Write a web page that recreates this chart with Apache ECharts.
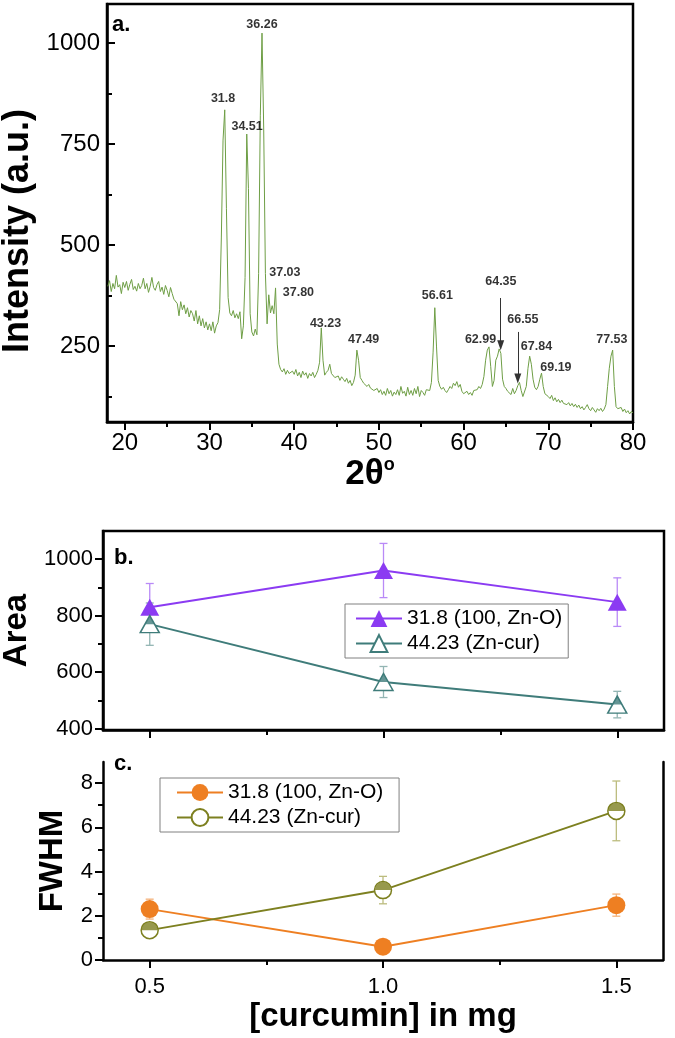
<!DOCTYPE html>
<html>
<head>
<meta charset="utf-8">
<script src="https://cdn.jsdelivr.net/npm/echarts@6.0.0/dist/echarts.min.js"></script>
<style>
  html, body { margin: 0; padding: 0; background: #fff; }
  #chart { width: 675px; height: 1038px; }
</style>
</head>
<body>
<div id="chart"></div>
<script>
// ---- panel a: XRD pattern, 2θ from 18 to 80 in 0.2 steps ----
const xrdStart = 18;
const xrdStep = 0.2;
const xrdIntensity = [
  398, 412, 385, 405, 392, 425, 396, 402, 380, 408,   // 18
  395, 410, 388, 403, 415, 390, 398, 386, 405, 392,   // 20
  400, 418, 392, 405, 383, 398, 420, 395, 388, 402,   // 22
  410, 385, 396, 378, 400, 388, 372, 395, 380, 366,   // 24
  368, 355, 325, 360, 340, 352, 330, 345, 322, 338,   // 26
  330, 312, 338, 305, 325, 300, 318, 295, 310, 290,   // 28
  305, 288, 310, 282, 300, 308, 340, 520, 760, 835,   // 30
  590, 370, 332, 325, 338, 320, 330, 318, 335, 268,   // 32
  300, 420, 775, 640, 330, 285, 275, 292, 278, 430,   // 34
  820, 1025, 790, 430, 305, 377, 332, 350, 330, 394,  // 36
  255, 205, 192, 186, 194, 180, 190, 182, 178, 188,   // 38
  180, 192, 176, 185, 172, 188, 178, 184, 170, 182,   // 40
  176, 185, 172, 180, 190, 210, 295, 215, 178, 185,   // 42
  190, 205, 182, 178, 172, 168, 176, 165, 174, 168,   // 44
  162, 170, 158, 165, 152, 160, 178, 240, 215, 172,   // 46
  165, 158, 162, 150, 155, 146, 150, 140, 138, 145,   // 48
  135, 142, 130, 138, 128, 145, 132, 140, 126, 136,   // 50
  130, 142, 128, 150, 133, 138, 126, 148, 130, 140,   // 52
  128, 145, 132, 150, 125, 140, 135, 128, 142, 138,   // 54
  140, 160, 235, 345, 250, 165, 150, 143, 148, 140,   // 56
  135, 142, 150, 145, 158, 152, 162, 148, 155, 138,   // 58
  132, 128, 138, 130, 135, 128, 140, 136, 142, 150,   // 60
  145, 155, 175, 215, 240, 248, 200, 150, 165, 215,   // 62
  225, 243, 232, 168, 150, 145, 138, 142, 130, 145,   // 64
  132, 140, 152, 160, 140, 125, 122, 150, 195, 225,   // 66
  205, 168, 148, 142, 150, 168, 183, 150, 132, 128,   // 68
  125, 120, 128, 115, 122, 112, 118, 110, 116, 108,   // 70
  112, 105, 110, 102, 108, 100, 106, 98, 104, 95,     // 72
  100, 92, 98, 105, 95, 90, 98, 92, 86, 95,           // 74
  90, 96, 88, 94, 105, 150, 195, 225, 240, 150,       // 76
  100, 95, 92, 98, 88, 94, 85, 90, 82, 88,            // 78
  85                                                  // 80
];

// peak annotations (text placed at these 2θ / intensity spots)
const peakNames = ['36.26', '31.8', '34.51', '37.03', '37.80', '43.23', '47.49',
                   '56.61', '64.35', '62.99', '66.55', '67.84', '69.19', '77.53'];
const peakLabelX = [36.2, 31.6, 34.44, 38.9, 40.5, 43.7, 48.2, 56.9, 64.4, 62.0, 67.0, 68.6, 70.9, 77.5];
const peakLabelY = [1045, 863, 794, 431, 382, 307, 267, 374, 409, 267, 315, 248, 198, 267];
const arrowX = [64.38, 66.4];
const arrowFrom = [369, 285];
const arrowTo = [252, 170];

// ---- panels b and c ----
const curcumin = [0.5, 1.0, 1.5];
const seriesNames = ['31.8 (100, Zn-O)', '44.23 (Zn-cur)'];
const areaZnO = [830, 960, 848];
const areaZnOErr = [84, 96, 86];
const areaZnCur = [770, 565, 485];
const areaZnCurErr = [75, 55, 47];
const fwhmZnO = [2.3, 0.6, 2.48];
const fwhmZnOErr = [0.45, 0.1, 0.5];
const fwhmZnCur = [1.35, 3.16, 6.74];
const fwhmZnCurErr = [0.1, 0.62, 1.35];

const FONT = '"Liberation Sans", Arial, sans-serif';
const purple = '#8b3bf2', teal = '#3f7c7a', orange = '#ee7f22', olive = '#7d8020';

const chart = echarts.init(document.getElementById('chart'));

function axis(gridIndex, position, min, max, ticks, inside, extra) {
  return Object.assign({
    type: 'value', gridIndex: gridIndex, position: position, min: min, max: max,
    axisLine: { show: true, onZero: false, lineStyle: { color: '#000', width: 2.5 } },
    axisTick: { show: true, customValues: ticks, inside: inside, length: 8, lineStyle: { color: '#000', width: 2 } },
    axisLabel: { show: true, customValues: ticks, color: '#000', fontFamily: FONT, fontSize: 22, margin: 10,
      formatter: v => String(v) },
    splitLine: { show: false }
  }, extra || {});
}

function minorAxis(gridIndex, position, min, max, ticks, inside) {
  return {
    type: 'value', gridIndex: gridIndex, position: position, min: min, max: max,
    axisLine: { show: false },
    axisTick: { show: true, customValues: ticks, inside: inside, length: 5, lineStyle: { color: '#000', width: 2 } },
    axisLabel: { show: false },
    splitLine: { show: false }
  };
}

function errorBars(xi, yi, values, errs, color) {
  return {
    type: 'custom', xAxisIndex: xi, yAxisIndex: yi, silent: true, z: 1,
    data: curcumin.map((c, i) => [c, values[i], errs[i]]),
    renderItem: function (params, api) {
      const x = api.value(0), y = api.value(1), e = api.value(2);
      const hi = api.coord([x, y + e]);
      const lo = api.coord([x, y - e]);
      const style = { stroke: color, lineWidth: 1.3 };
      return {
        type: 'group',
        children: [
          { type: 'line', shape: { x1: hi[0], y1: hi[1], x2: lo[0], y2: lo[1] }, style: style },
          { type: 'line', shape: { x1: hi[0] - 4, y1: hi[1], x2: hi[0] + 4, y2: hi[1] }, style: style },
          { type: 'line', shape: { x1: lo[0] - 4, y1: lo[1], x2: lo[0] + 4, y2: lo[1] }, style: style }
        ]
      };
    }
  };
}

function pairs(values) {
  return curcumin.map((c, i) => [c, values[i]]);
}

const legendBase = {
  orient: 'vertical', backgroundColor: '#fff',
  borderColor: '#808080', borderWidth: 1, borderRadius: 0,
  itemWidth: 46, itemHeight: 21, itemGap: 4,
  textStyle: { color: '#000', fontFamily: FONT, fontSize: 21 }
};

const option = {
  animation: false,
  grid: [
    { left: 107, top: 4, width: 526, height: 418, show: true, borderColor: '#000', borderWidth: 2.5, outerBoundsMode: 'none' },
    { left: 103, top: 531, width: 561, height: 199, show: true, borderColor: '#000', borderWidth: 2.5, outerBoundsMode: 'none' },
    { left: 103, top: 762, width: 560, height: 198, show: false, outerBoundsMode: 'none' }
  ],
  xAxis: [
    axis(0, 'bottom', 17.9, 80, [20, 30, 40, 50, 60, 70, 80], false, {
      axisLabel: { show: true, customValues: [20, 30, 40, 50, 60, 70, 80], color: '#000', fontFamily: FONT, fontSize: 24, margin: 9,
        formatter: v => String(v) },
      name: '{a|2θ}{b|o}', nameLocation: 'middle', nameGap: 21,
      nameTextStyle: {
        rich: {
          a: { fontSize: 35, fontWeight: 'bold', fontFamily: FONT, color: '#000', lineHeight: 36 },
          b: { fontSize: 18, fontWeight: 'bold', fontFamily: FONT, color: '#000', lineHeight: 18, verticalAlign: 'top' }
        }
      }
    }),
    minorAxis(0, 'bottom', 17.9, 80, [25, 35, 45, 55, 65, 75], false),
    axis(1, 'bottom', 0.4, 1.6, [0.5, 1.0, 1.5], false, { axisLabel: { show: false } }),
    minorAxis(1, 'bottom', 0.4, 1.6, [0.75, 1.25], false),
    axis(2, 'bottom', 0.4, 1.6, [0.5, 1.0, 1.5], false, {
      axisLabel: { show: true, customValues: [0.5, 1.0, 1.5], color: '#000', fontFamily: FONT, fontSize: 22, margin: 16,
        formatter: v => v.toFixed(1) },
      name: '[curcumin] in mg', nameLocation: 'middle', nameGap: 40,
      nameTextStyle: { fontSize: 33, fontWeight: 'bold', fontFamily: FONT, color: '#000' }
    }),
    minorAxis(2, 'bottom', 0.4, 1.6, [0.75, 1.25], false)
  ],
  yAxis: [
    axis(0, 'left', 62, 1097, [250, 500, 750, 1000], true, {
      axisLabel: { show: true, customValues: [250, 500, 750, 1000], color: '#000', fontFamily: FONT, fontSize: 24, margin: 7,
        formatter: v => String(v) },
      name: 'Intensity (a.u.)', nameLocation: 'middle', nameGap: 59,
      nameTextStyle: { fontSize: 36, fontWeight: 'bold', fontFamily: FONT, color: '#000', padding: [0, 36, 0, 0] }
    }),
    minorAxis(0, 'left', 62, 1097, [125, 375, 625, 875], true),
    axis(1, 'left', 395, 1100, [400, 600, 800, 1000], false, {
      name: 'Area', nameLocation: 'middle', nameGap: 63,
      nameTextStyle: { fontSize: 33, fontWeight: 'bold', fontFamily: FONT, color: '#000' }
    }),
    minorAxis(1, 'left', 395, 1100, [500, 700, 900], false),
    axis(2, 'left', 0, 8.95, [0, 2, 4, 6, 8], false, {
      name: 'FWHM', nameLocation: 'middle', nameGap: 32,
      nameTextStyle: { fontSize: 33, fontWeight: 'bold', fontFamily: FONT, color: '#000' }
    }),
    minorAxis(2, 'left', 0, 8.95, [1, 3, 5, 7], false),
    {
      type: 'value', gridIndex: 2, position: 'right', min: 0, max: 8.95,
      axisLine: { show: true, onZero: false, lineStyle: { color: '#000', width: 2.5 } },
      axisTick: { show: false }, axisLabel: { show: false }, splitLine: { show: false }
    }
  ],
  legend: [
    Object.assign({}, legendBase, { data: seriesNames, left: 345, top: 604, padding: [4, 6, 4, 10] }),
    Object.assign({}, legendBase, { data: seriesNames.map(n => n + ' '), left: 160, top: 778, padding: [4, 10, 4, 16] })
  ],
  graphic: [
    { type: 'text', left: 112, top: 14, style: { text: 'a.', font: 'bold 22px ' + FONT, fill: '#000' } },
    { type: 'text', left: 114, top: 547, style: { text: 'b.', font: 'bold 22px ' + FONT, fill: '#000' } },
    { type: 'text', left: 114, top: 753, style: { text: 'c.', font: 'bold 22px ' + FONT, fill: '#000' } }
  ],
  series: [
    {
      type: 'line', name: 'xrd', xAxisIndex: 0, yAxisIndex: 0, showSymbol: false, silent: true,
      data: xrdIntensity.map((v, i) => [xrdStart + i * xrdStep, v]),
      lineStyle: { color: '#6e9e45', width: 1 }, z: 2
    },
    {
      type: 'scatter', name: 'peaks', xAxisIndex: 0, yAxisIndex: 0, silent: true,
      symbol: 'circle', symbolSize: 1, itemStyle: { color: 'rgba(0,0,0,0)' },
      data: peakNames.map((n, i) => ({ name: n, value: [peakLabelX[i], peakLabelY[i]] })),
      label: { show: true, position: 'inside', formatter: p => p.name, color: '#000',
        fontFamily: FONT, fontWeight: 'bold', fontSize: 12.5 },
      markLine: {
        silent: true, symbol: ['none', 'triangle'], symbolSize: [7, 10],
        label: { show: false },
        lineStyle: { color: '#333', width: 1, type: 'solid' },
        data: arrowX.map((x, i) => [{ coord: [x, arrowFrom[i]] }, { coord: [x, arrowTo[i]] }])
      },
      z: 5
    },
    // panel b
    errorBars(2, 2, areaZnO, areaZnOErr, '#b98af7'),
    errorBars(2, 2, areaZnCur, areaZnCurErr, '#93b5b3'),
    {
      type: 'line', name: seriesNames[0], xAxisIndex: 2, yAxisIndex: 2, data: pairs(areaZnO),
      symbol: 'triangle', symbolSize: [19, 17], lineStyle: { color: purple, width: 2 },
      itemStyle: { color: purple }, z: 3
    },
    {
      type: 'line', name: seriesNames[1], xAxisIndex: 2, yAxisIndex: 2, data: pairs(areaZnCur),
      symbol: 'triangle', symbolSize: [19, 17], lineStyle: { color: teal, width: 2 },
      itemStyle: { color: '#fff', borderColor: teal, borderWidth: 1.5 }, z: 3
    },
    {
      type: 'scatter', name: 'half-b', xAxisIndex: 2, yAxisIndex: 2, data: pairs(areaZnCur), silent: true,
      symbol: 'triangle', symbolSize: [9.5, 8.5], symbolOffset: [0, -4.25], itemStyle: { color: teal }, z: 4
    },
    // panel c
    errorBars(4, 4, fwhmZnO, fwhmZnOErr, '#f4b27a'),
    errorBars(4, 4, fwhmZnCur, fwhmZnCurErr, '#bcbc7e'),
    {
      type: 'line', name: seriesNames[0] + ' ', xAxisIndex: 4, yAxisIndex: 4, data: pairs(fwhmZnO),
      symbol: 'circle', symbolSize: 18, lineStyle: { color: orange, width: 2 },
      itemStyle: { color: orange }, z: 3
    },
    {
      type: 'line', name: seriesNames[1] + ' ', xAxisIndex: 4, yAxisIndex: 4, data: pairs(fwhmZnCur),
      symbol: 'circle', symbolSize: 17, lineStyle: { color: olive, width: 2 },
      itemStyle: { color: '#fff', borderColor: olive, borderWidth: 1.5 }, z: 3
    },
    {
      type: 'scatter', name: 'half-c', xAxisIndex: 4, yAxisIndex: 4, data: pairs(fwhmZnCur), silent: true,
      symbol: 'path://M0 10A10 10 0 0 1 20 10Z', symbolSize: [16, 8], symbolOffset: [0, -4],
      itemStyle: { color: olive }, z: 4
    }
  ]
};

chart.setOption(option);
window.addEventListener('resize', function () {
  chart.resize();
});
</script>
</body>
</html>
